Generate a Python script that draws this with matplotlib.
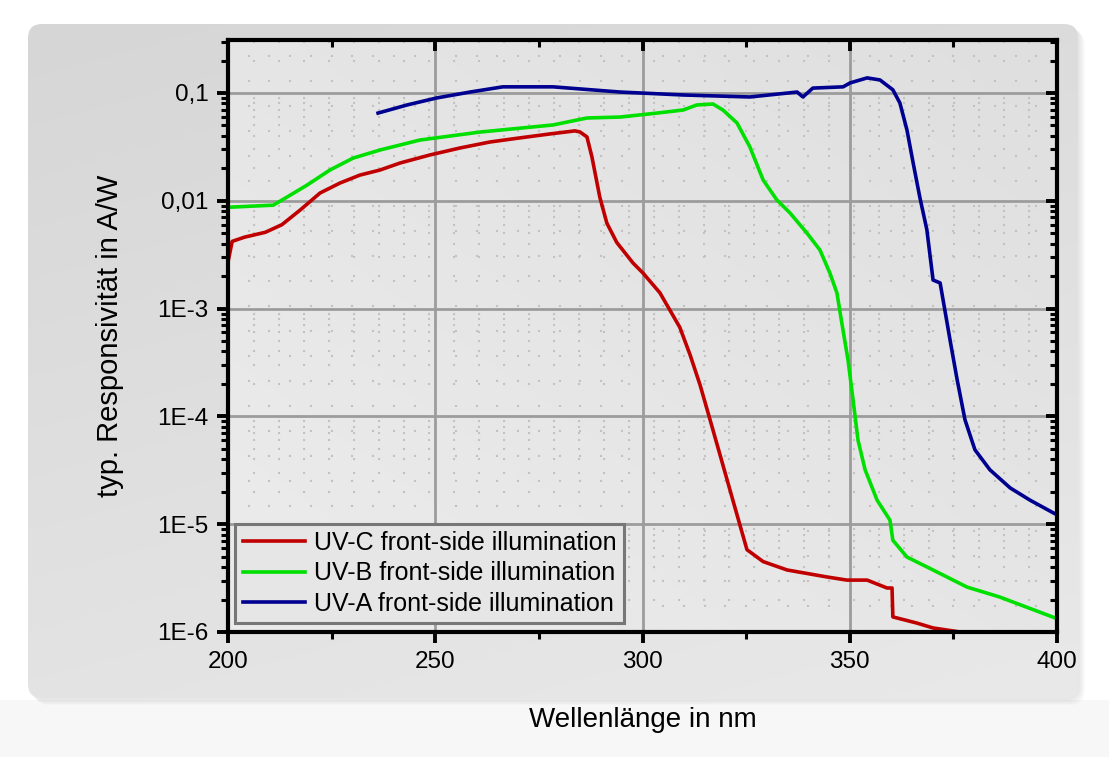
import numpy as np
import matplotlib
matplotlib.use("Agg")
import matplotlib.pyplot as plt
from matplotlib.ticker import FixedLocator, FixedFormatter, MultipleLocator, LogLocator, NullFormatter
from matplotlib.patches import FancyBboxPatch
from matplotlib.colors import LinearSegmentedColormap

plt.rcParams['font.family'] = ['Liberation Sans', 'DejaVu Sans']

uvc_nm = [200, 201, 204, 209, 213, 217.4, 222.2, 227, 231.8, 236.7, 241.5, 248.7, 256, 263.2,
          270.4, 277.7, 283.7, 284.9, 286.6, 287.8, 289.7, 291.4, 293.8, 297.7, 300.1, 304.2,
          309, 311.5, 313.9, 316.3, 318.7, 321.8, 325.2, 329.1, 334.9, 344.5, 349.3, 354.2,
          359, 360.2, 360.4, 366.2, 370.1, 376.6]
uvc_aw = [0.0027, 0.0042, 0.0046, 0.0051, 0.0060, 0.0082, 0.0118, 0.0146, 0.0173, 0.0193,
          0.0224, 0.0266, 0.0309, 0.0351, 0.0383, 0.0417, 0.0445, 0.0435, 0.0391, 0.0255,
          0.0108, 0.0062, 0.0041, 0.00265, 0.00214, 0.0014, 0.00067, 0.00037, 0.000195,
          9.3e-5, 4.4e-5, 1.67e-5, 5.8e-6, 4.5e-6, 3.76e-6, 3.24e-6, 3.03e-6, 3.03e-6,
          2.56e-6, 2.56e-6, 1.38e-6, 1.21e-6, 1.09e-6, 1.0e-6]

uvb_nm = [200, 205.3, 210.9, 214.2, 219.1, 224.6, 230.2, 236.7, 246.3, 260.8, 278.4, 286.6,
          294.6, 303.5, 309.8, 313.1, 317, 319.4, 322.8, 325.9, 329.1, 332.4, 335.6, 339.7,
          342.8, 345.2, 346.9, 348.1, 349.6, 350.8, 352, 353.7, 356.6, 359.7, 360.4, 363.8,
          370.1, 378.3, 386.2, 400]
uvb_aw = [0.0087, 0.0089, 0.0091, 0.0108, 0.0140, 0.0193, 0.0249, 0.0296, 0.0366, 0.0434,
          0.0505, 0.0586, 0.0598, 0.0651, 0.0695, 0.0774, 0.079, 0.0695, 0.0527, 0.0316,
          0.0156, 0.0102, 0.0077, 0.0050, 0.0035, 0.00214, 0.0014, 0.00073, 0.00033,
          0.000142, 6.0e-5, 3.2e-5, 1.67e-5, 1.09e-5, 7.1e-6, 4.96e-6, 3.76e-6, 2.61e-6,
          2.11e-6, 1.33e-6]

uva_nm = [236.2, 243.2, 250.4, 258.4, 266.3, 278.4, 294.6, 309.8, 325.9, 337.3, 338.7, 341.1,
          348.4, 350.1, 354.2, 357.3, 360.4, 362.1, 363.8, 365.3, 366.9, 368.6, 370.1, 371.8,
          373.5, 374.2, 375.9, 377.8, 380.2, 383.8, 388.7, 393.5, 400]
uva_aw = [0.0651, 0.0774, 0.090, 0.102, 0.114, 0.114, 0.102, 0.0958, 0.0918, 0.102, 0.0918,
          0.111, 0.114, 0.124, 0.138, 0.132, 0.107, 0.0807, 0.0454, 0.0224, 0.0108, 0.0054,
          0.00184, 0.00173, 0.00073, 0.00051, 0.00022, 9.3e-5, 4.9e-5, 3.2e-5, 2.17e-5,
          1.67e-5, 1.22e-5]

x_ticks = [200, 250, 300, 350, 400]
y_ticks = [1e-6, 1e-5, 1e-4, 1e-3, 0.01, 0.1]
y_labels = ['1E-6', '1E-5', '1E-4', '1E-3', '0,01', '0,1']

series = [
    (uvc_nm, uvc_aw, '#c00000', 'UV-C front-side illumination'),
    (uvb_nm, uvb_aw, '#00e000', 'UV-B front-side illumination'),
    (uva_nm, uva_aw, '#000090', 'UV-A front-side illumination'),
]

W, H = 1109, 757
fig = plt.figure(figsize=(W / 100, H / 100), dpi=100)
fig.patch.set_facecolor('white')

# Hintergrund: graues Panel mit Schatten
bg = fig.add_axes([0, 0, 1, 1], zorder=-10)
bg.axis('off')
bg.add_patch(FancyBboxPatch((0, 700), W, 57, boxstyle="square,pad=0", fc='#f7f7f7', ec='none', zorder=0))
for k in range(6):
    bg.add_patch(FancyBboxPatch((30 + k, 26 + k), 1050, 674, boxstyle="round,pad=0,rounding_size=14",
                                fc='black', ec='none', alpha=0.015, zorder=0))
panel = FancyBboxPatch((28, 24), 1050, 674, boxstyle="round,pad=0,rounding_size=14",
                       fc='none', ec='none', zorder=0)
bg.add_patch(panel)
yy, xx = np.mgrid[0:1:200j, 0:1:200j]
cm_panel = LinearSegmentedColormap.from_list('p', ['#d6d6d6', '#e9e9e9'])
im = bg.imshow(0.7 * yy + 0.3 * xx, extent=[28, 1078, 698, 24], cmap=cm_panel, aspect='auto', zorder=1)
im.set_clip_path(panel)
cm_plot = LinearSegmentedColormap.from_list('q', ['#dfdfdf', '#ececec'])
bg.imshow(0.5 * yy + 0.5 * (1 - xx), extent=[228, 1057, 632, 40], cmap=cm_plot, aspect='auto', zorder=2)
bg.set_xlim(0, W)
bg.set_ylim(H, 0)

pos = [228 / W, (H - 632) / H, (1057 - 228) / W, (632 - 40) / H]

# Gitter in eigener Achse (gepunktete Nebenlinien)
axg = fig.add_axes(pos, zorder=0)
axg.patch.set_alpha(0)
axg.set_yscale('log')
axg.set_xlim(200, 400)
axg.set_ylim(1e-6, 0.31)
axg.xaxis.set_major_locator(MultipleLocator(50))
axg.xaxis.set_minor_locator(MultipleLocator(5))
axg.yaxis.set_major_locator(FixedLocator(y_ticks))
axg.yaxis.set_minor_locator(LogLocator(base=10, subs=np.arange(2, 10)))
axg.grid(which='major', color='#9c9c9c', lw=2.0, ls='-')
axg.grid(which='minor', color='#c2c2c2', lw=1.5, ls=(0, (1, 11)))
axg.tick_params(which='both', length=0, labelleft=False, labelbottom=False)
axg.yaxis.set_minor_formatter(NullFormatter())
for s in axg.spines.values():
    s.set_visible(False)

ax = fig.add_axes(pos, zorder=1)
ax.patch.set_alpha(0)
for nm, aw, col, lab in series:
    ax.plot(nm, aw, color=col, lw=2.6, label=lab)
ax.set_yscale('log')
ax.set_xlim(200, 400)
ax.set_ylim(1e-6, 0.31)

ax.xaxis.set_major_locator(FixedLocator(x_ticks))
ax.xaxis.set_minor_locator(MultipleLocator(25))
ax.yaxis.set_major_locator(FixedLocator(y_ticks))
ax.yaxis.set_major_formatter(FixedFormatter(y_labels))
ax.yaxis.set_minor_locator(LogLocator(base=10, subs=np.arange(2, 10)))
ax.yaxis.set_minor_formatter(NullFormatter())

ax.tick_params(axis='both', which='major', labelsize=17.5, width=2.8, length=8, pad=6)
ax.tick_params(axis='both', which='minor', width=2.2, length=5)
ax.tick_params(axis='x', which='both', direction='out', top=True)
ax.tick_params(axis='y', which='both', direction='out', right=True)
# obere und rechte Achse: Striche nach innen
for t in ax.xaxis.get_major_ticks() + ax.xaxis.get_minor_ticks():
    t.tick2line.set_marker(3)
for t in ax.yaxis.get_major_ticks() + ax.yaxis.get_minor_ticks():
    t.tick2line.set_marker(0)

for s in ax.spines.values():
    s.set_linewidth(3.0)

ax.set_xlabel('Wellenlänge in nm', fontsize=20, labelpad=24)
ax.set_ylabel('typ. Responsivität in A/W', fontsize=21, labelpad=24)

leg = ax.legend(loc='lower left', bbox_to_anchor=(0.009, 0.015), borderaxespad=0,
                fontsize=18, handlelength=2.5, labelspacing=0.25, fancybox=False,
                framealpha=1, borderpad=0.3, handletextpad=0.35)
leg.get_frame().set_facecolor('#e6e6e6')
leg.get_frame().set_edgecolor('#777777')
leg.get_frame().set_linewidth(2.2)

fig.savefig('out.png', dpi=100)
